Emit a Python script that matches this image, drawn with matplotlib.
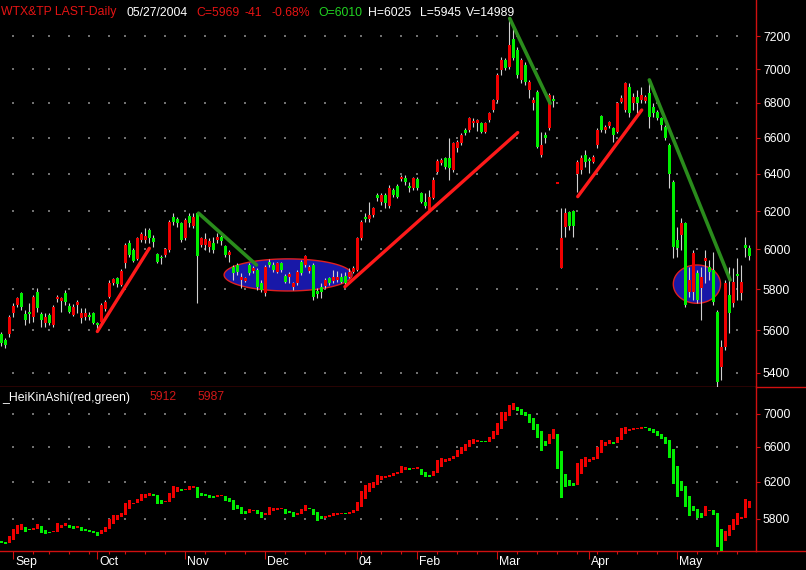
import numpy as np
import pandas as pd
import matplotlib
matplotlib.use("Agg")
import matplotlib.pyplot as plt
from matplotlib.lines import Line2D

# trading calendar (TAIFEX, Aug 2003 - May 2004)
start_date = "2003-08-27"
end_date = "2004-05-27"
holidays = ["2003-09-11", "2003-10-10", "2004-01-01", "2004-01-19", "2004-01-20",
            "2004-01-21", "2004-01-22", "2004-01-23", "2004-01-26"]
month_labels = ["Sep", "Oct", "Nov", "Dec", "04", "Feb", "Mar", "Apr", "May"]

# daily OHLC
opens = [5582, 5554, 5582, 5684, 5722, 5781, 5679, 5684, 5664, 5786,
         5679, 5635, 5674, 5625, 5752, 5742, 5781, 5718, 5674, 5722,
         5659, 5664, 5674, 5684, 5630, 5640, 5703, 5762, 5830, 5856,
         5820, 5931, 6033, 5998, 5952, 6049, 6049, 6101, 6059, 5977,
         5962, 5972, 5998, 6169, 6158, 6138, 6059, 6174, 6122, 6190,
         6023, 6023, 6013, 6033, 6049, 6064, 6018, 5972, 5911, 5921,
         5846, 5841, 5921, 5891, 5896, 5830, 5781, 5936, 5921, 5886,
         5931, 5866, 5861, 5811, 5830, 5936, 5921, 5891, 5921, 5791,
         5811, 5816, 5856, 5841, 5846, 5861, 5866, 5861, 5886, 5896,
         6059, 6169, 6158, 6179, 6286, 6249, 6286, 6227, 6313, 6334,
         6372, 6377, 6334, 6323, 6372, 6297, 6249, 6206, 6270, 6410,
         6460, 6488, 6488, 6422, 6543, 6571, 6645, 6645, 6684, 6684,
         6684, 6633, 6702, 6759, 6818, 6994, 7054, 7012, 7182, 7115,
         6935, 7024, 6876, 6800, 6864, 6504, 6616, 6656, 6818, 6345,
         5906, 6117, 6195, 6201, 6400, 6421, 6504, 6482, 6466, 6560,
         6725, 6645, 6667, 6656, 6633, 6806, 6759, 6894, 6800, 6835,
         6818, 6812, 6858, 6778, 6747, 6713, 6662, 6560, 6356, 6049,
         6075, 6138, 5786, 5786, 5881, 5806, 5942, 5911, 5896, 5689,
         5427, 5521, 5772, 5733, 5876, 5781, 6025, 6010]
highs = [5592, 5563, 5674, 5733, 5762, 5786, 5698, 5733, 5772, 5806,
         5689, 5684, 5684, 5722, 5772, 5762, 5796, 5733, 5728, 5747,
         5708, 5708, 5689, 5689, 5640, 5733, 5747, 5846, 5856, 5861,
         5901, 6033, 6049, 6008, 6064, 6090, 6111, 6111, 6075, 5982,
         5972, 6008, 6153, 6190, 6169, 6143, 6164, 6190, 6190, 6195,
         6064, 6085, 6059, 6064, 6085, 6075, 6023, 5998, 5921, 5931,
         5881, 5861, 5931, 5916, 5906, 5846, 5921, 5952, 5936, 5936,
         5936, 5876, 5886, 5836, 5896, 5947, 5972, 5921, 5931, 5806,
         5830, 5856, 5861, 5896, 5891, 5881, 5886, 5906, 5916, 6064,
         6153, 6190, 6248, 6222, 6297, 6297, 6297, 6339, 6323, 6345,
         6394, 6394, 6356, 6383, 6383, 6302, 6297, 6313, 6383, 6482,
         6488, 6493, 6599, 6577, 6588, 6627, 6656, 6719, 6713, 6707,
         6690, 6690, 6747, 6823, 6977, 7072, 7066, 7311, 7250, 7133,
         7066, 7042, 6935, 6835, 6876, 6633, 6633, 6858, 6847, 6345,
         6217, 6217, 6201, 6206, 6477, 6504, 6532, 6493, 6504, 6656,
         6730, 6673, 6696, 6662, 6806, 6847, 6923, 6917, 6858, 6876,
         6894, 6847, 6935, 6800, 6759, 6719, 6673, 6571, 6367, 6116,
         6164, 6143, 5911, 5998, 5896, 5911, 5998, 5947, 5988, 5698,
         5554, 5846, 5911, 5906, 5957, 5921, 6064, 6025]
lows = [5526, 5516, 5568, 5664, 5713, 5698, 5625, 5635, 5640, 5689,
        5616, 5616, 5625, 5616, 5737, 5689, 5722, 5684, 5669, 5684,
        5635, 5650, 5650, 5630, 5592, 5635, 5693, 5757, 5820, 5811,
        5815, 5906, 5962, 5936, 5947, 6039, 6033, 6033, 6013, 5931,
        5926, 5962, 5988, 6127, 6117, 6039, 6049, 6117, 6111, 5732,
        6013, 5998, 5988, 5982, 6033, 6023, 5962, 5936, 5846, 5871,
        5806, 5836, 5871, 5881, 5796, 5786, 5767, 5911, 5886, 5881,
        5886, 5830, 5830, 5796, 5820, 5871, 5911, 5881, 5747, 5757,
        5757, 5806, 5820, 5830, 5836, 5830, 5820, 5856, 5881, 5891,
        6049, 6143, 6143, 6169, 6254, 6233, 6217, 6217, 6275, 6270,
        6361, 6340, 6302, 6313, 6313, 6243, 6217, 6195, 6265, 6405,
        6449, 6427, 6367, 6410, 6521, 6560, 6616, 6633, 6662, 6639,
        6627, 6627, 6690, 6747, 6806, 6965, 6994, 7000, 7054, 6947,
        6917, 6906, 6829, 6759, 6543, 6493, 6571, 6645, 6778, 6345,
        5906, 6064, 6101, 6064, 6302, 6400, 6438, 6405, 6460, 6543,
        6633, 6627, 6656, 6577, 6627, 6800, 6747, 6719, 6759, 6742,
        6800, 6800, 6656, 6719, 6702, 6645, 6588, 6324, 5957, 5962,
        5998, 5713, 5762, 5747, 5733, 5650, 5830, 5846, 5722, 5336,
        5367, 5507, 5587, 5713, 5747, 5747, 5962, 5945]
closes = [5540, 5530, 5664, 5718, 5757, 5713, 5650, 5680, 5762, 5708,
          5650, 5664, 5635, 5713, 5762, 5757, 5737, 5689, 5713, 5737,
          5684, 5684, 5664, 5635, 5625, 5722, 5737, 5830, 5851, 5825,
          5891, 6023, 5972, 5942, 6059, 6080, 6070, 6059, 6039, 5936,
          5955, 6003, 6143, 6143, 6138, 6049, 6153, 6138, 6169, 5967,
          6059, 6054, 6044, 5998, 6064, 6044, 5972, 5988, 5881, 5886,
          5861, 5856, 5881, 5906, 5811, 5796, 5911, 5921, 5896, 5931,
          5896, 5836, 5876, 5830, 5886, 5881, 5967, 5911, 5762, 5776,
          5786, 5846, 5830, 5861, 5861, 5836, 5830, 5886, 5906, 6059,
          6143, 6158, 6179, 6217, 6270, 6286, 6243, 6323, 6286, 6275,
          6383, 6356, 6323, 6377, 6323, 6249, 6227, 6275, 6367, 6471,
          6477, 6438, 6432, 6571, 6577, 6616, 6627, 6713, 6696, 6702,
          6633, 6684, 6742, 6818, 6965, 7054, 7006, 7145, 7066, 6965,
          7054, 6923, 6923, 6818, 6549, 6560, 6599, 6847, 6812, 6345,
          6059, 6190, 6122, 6122, 6466, 6488, 6466, 6471, 6493, 6645,
          6645, 6662, 6690, 6616, 6800, 6829, 6917, 6742, 6835, 6800,
          6847, 6835, 6719, 6742, 6713, 6673, 6599, 6400, 6013, 6008,
          6138, 5722, 5846, 5982, 5747, 5861, 5957, 5886, 5737, 5358,
          5521, 5830, 5684, 5836, 5866, 5836, 6010, 5969]

header = [("WTX&TP LAST-Daily", 1, "#e41414"), ("05/27/2004", 127, "#ffffff"),
          ("C=5969", 196, "#e41414"), ("-41", 245, "#e41414"), ("-0.68%", 272, "#e41414"),
          ("O=6010", 318, "#22d422"), ("H=6025", 368, "#ffffff"),
          ("L=5945", 420, "#ffffff"), ("V=14989", 466, "#ffffff")]
ha_title = "_HeiKinAshi(red,green)"
ha_values = ["5912", "5987"]

# hand-drawn annotations: (bar index, price) end points
up_lines = [((24.0, 5594), (37.0, 6006)), ((85.9, 5812), (129.1, 6630)),
            ((144.1, 6277), (160.1, 6759))]
down_lines = [((49.3, 6189), (63.8, 5921)), ((127.1, 7309), (137.2, 6798)),
              ((162.0, 6935), (182.2, 5846))]
# center bar, center price, half width in bars, top price
ellipses = [(71.7, 5871, 16.0, 5952), (173.9, 5825, 5.9, 5921)]

upper_ticks = [5400, 5600, 5800, 6000, 6200, 6400, 6600, 6800, 7000, 7200]
lower_ticks = [5800, 6200, 6600, 7000]

BG = "black"
RED = "#f00000"
GREEN = "#00ee00"
WICK = "#d0d0d0"
AXIS_RED = "#d01010"
FONT = "Liberation Sans"
FS = 8.8

o = np.array(opens, float)
h = np.array(highs, float)
l = np.array(lows, float)
c = np.array(closes, float)

dates = pd.bdate_range(start_date, end_date)
dates = dates[~dates.isin(pd.to_datetime(holidays))]
x = np.arange(len(dates))
month_starts = [i for i in range(1, len(dates)) if dates[i].month != dates[i - 1].month]
week_starts = [i for i in range(1, len(dates))
               if dates[i].weekday() < dates[i - 1].weekday() or (dates[i] - dates[i - 1]).days > 6]

# Heikin-Ashi
ha_c = (o + h + l + c) / 4
ha_o = np.zeros_like(ha_c)
ha_o[0] = (o[0] + c[0]) / 2
for i in range(1, len(ha_c)):
    ha_o[i] = (ha_o[i - 1] + ha_c[i - 1]) / 2

W, H = 806, 570
fig = plt.figure(figsize=(W / 100, H / 100), dpi=100, facecolor=BG)
ax1 = fig.add_axes([0, 1 - 387 / H, 756 / W, 387 / H], facecolor=BG)
ax2 = fig.add_axes([0, 1 - 551 / H, 756 / W, 164 / H], facecolor=BG)

for ax, ticks, lim in [(ax1, upper_ticks, (5335, 7425)), (ax2, lower_ticks, (5476, 7347))]:
    ax.set_yscale("log")
    ax.set_xlim(-0.33, 188.67)
    ax.set_ylim(*lim)
    ax.yaxis.tick_right()
    ax.set_yticks(ticks)
    ax.set_yticklabels([str(t) for t in ticks], fontsize=FS, family=FONT, color="white")
    ax.yaxis.set_minor_locator(matplotlib.ticker.NullLocator())
    ax.tick_params(axis="y", colors=AXIS_RED, labelcolor="white", length=3, width=0.8, pad=2)
    for s in ["left", "top"]:
        ax.spines[s].set_visible(False)
    for s in ["right", "bottom"]:
        ax.spines[s].set_color(AXIS_RED)
        ax.spines[s].set_linewidth(1.0)
    # weekly dot grid
    gx, gy = np.meshgrid(week_starts, ticks)
    ax.scatter(gx.ravel(), gy.ravel(), s=0.8, color="#707070", marker="s", linewidths=0, zorder=1)

ax1.set_xticks([])

# ellipses drawn as true ellipses on screen (log y)
t = np.linspace(0, 2 * np.pi, 200)
for xc, pc, a, top in ellipses:
    ax1.fill(xc + a * np.cos(t), pc * (top / pc) ** np.sin(t), facecolor="#1818a8",
             edgecolor="#e02020", lw=1.0, zorder=2)

# candles
up = c >= o
ax1.vlines(x, l, h, color=WICK, lw=0.8, zorder=3)
bottom = np.minimum(o, c)
height = np.maximum(np.abs(c - o), bottom * 0.0014)
ax1.bar(x, height, bottom=bottom, width=0.75, color=np.where(up, RED, GREEN), linewidth=0, zorder=4)

for (x0, p0), (x1, p1) in up_lines:
    ax1.plot([x0, x1], [p0, p1], color="#ff1a1a", lw=2.4, solid_capstyle="round", zorder=5)
for (x0, p0), (x1, p1) in down_lines:
    ax1.plot([x0, x1], [p0, p1], color="#2a8c1c", lw=2.6, solid_capstyle="round", zorder=5)

# Heikin-Ashi panel
ha_up = ha_c >= ha_o
ha_bot = np.minimum(ha_o, ha_c)
ha_h = np.maximum(np.abs(ha_c - ha_o), ha_bot * 0.0025)
ax2.bar(x, ha_h, bottom=ha_bot, width=0.8, color=np.where(ha_up, RED, GREEN), linewidth=0, zorder=3)

ax2.set_xticks(month_starts)
ax2.set_xticklabels([])
ax2.set_xticks(week_starts, minor=True)
ax2.tick_params(axis="x", which="major", colors=AXIS_RED, length=6, width=0.8, direction="out")
ax2.tick_params(axis="x", which="minor", colors=AXIS_RED, length=2, width=0.8, direction="out")
for i, lab in zip(month_starts, month_labels):
    ax2.text(i + 0.4, -11 / 164, lab, transform=ax2.get_xaxis_transform(), ha="left", va="center",
             fontsize=FS, family=FONT, color="white", clip_on=False)

# separator lines running to the right edge
for y in [387, 551]:
    fig.add_artist(Line2D([756 / W, 1], [1 - y / H, 1 - y / H], transform=fig.transFigure,
                          color=AXIS_RED, lw=1.0))

# header and indicator labels
for txt, px, col in header:
    fig.text(px / W, 1 - 15.5 / H, txt, color=col, fontsize=FS, family=FONT, va="baseline")
fig.text(2 / W, 1 - 400.5 / H, ha_title, color="white", fontsize=FS, family=FONT, va="baseline")
for txt, px in zip(ha_values, [149, 197]):
    fig.text(px / W, 1 - 400.5 / H, txt, color="#d01818", fontsize=FS, family=FONT, va="baseline")

fig.savefig("out.png", dpi=100, facecolor=BG)
